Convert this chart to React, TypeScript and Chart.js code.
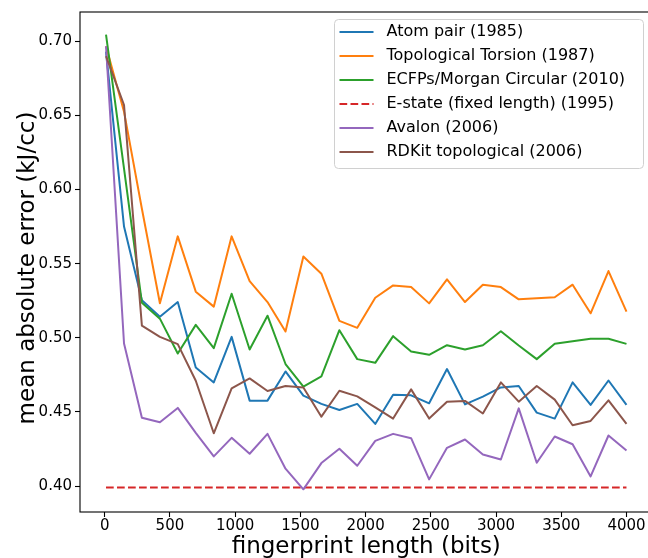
import React, { useEffect, useRef } from "react";
import { Chart, registerables } from "chart.js";

Chart.register(...registerables);

// fingerprint length (bits) at each evaluated point
const fingerprintLengths = [
  10, 148, 285, 423, 560, 698, 836, 973, 1111, 1248, 1386, 1523, 1661, 1799, 1936,
  2074, 2211, 2349, 2487, 2624, 2762, 2899, 3037, 3174, 3312, 3450, 3587, 3725, 3862, 4000,
];

const atomPairMAE = [
  0.693, 0.575, 0.5253, 0.5142, 0.5241, 0.48, 0.4699, 0.5006, 0.4576, 0.4576, 0.4773, 0.461, 0.4554, 0.4513, 0.4554,
  0.4419, 0.4616, 0.4612, 0.4558, 0.4789, 0.4551, 0.4603, 0.4665, 0.4675, 0.4495, 0.4455, 0.4699, 0.4547, 0.4712, 0.4547,
];
const topologicalTorsionMAE = [
  0.6966, 0.6525, 0.587, 0.5233, 0.5684, 0.5311, 0.521, 0.5684, 0.5382, 0.5241, 0.5042, 0.5548, 0.5432, 0.5114, 0.5067,
  0.527, 0.5353, 0.5342, 0.5232, 0.5394, 0.5241, 0.5358, 0.5342, 0.5259, 0.5266, 0.5273, 0.5358, 0.5165, 0.545, 0.5176,
];
const ecfpMorganMAE = [
  0.7044, 0.614, 0.5237, 0.5129, 0.4894, 0.5087, 0.493, 0.5297, 0.4921, 0.5149, 0.4823, 0.467, 0.4739, 0.5051, 0.4856,
  0.4831, 0.5011, 0.4907, 0.4885, 0.495, 0.4921, 0.495, 0.5044, 0.4948, 0.4856, 0.4959, 0.4977, 0.4993, 0.4993, 0.4959,
];
const estateLengths = [10, 4000];
const estateMAE = [0.399, 0.399];
const avalonMAE = [
  0.6966, 0.4961, 0.446, 0.443, 0.4527, 0.4359, 0.42, 0.4325, 0.4218, 0.4352, 0.4117, 0.3978, 0.4155, 0.4251, 0.4137,
  0.4305, 0.4352, 0.4323, 0.4045, 0.4258, 0.4314, 0.4213, 0.4179, 0.4524, 0.4157, 0.4334, 0.4282, 0.4065, 0.4341, 0.424,
];
const rdkitTopologicalMAE = [
  0.6899, 0.657, 0.5082, 0.5006, 0.4957, 0.471, 0.4356, 0.4659, 0.4726, 0.4641, 0.4675, 0.4665, 0.4468, 0.4643, 0.4605,
  0.4531, 0.4455, 0.4652, 0.4455, 0.4569, 0.4574, 0.4489, 0.4699, 0.4569, 0.4675, 0.4583, 0.441, 0.4439, 0.4578, 0.4419,
];

const seriesLabels = [
  "Atom pair (1985)",
  "Topological Torsion (1987)",
  "ECFPs/Morgan Circular (2010)",
  "E-state (fixed length) (1995)",
  "Avalon (2006)",
  "RDKit topological (2006)",
];
const seriesColors = ["#1f77b4", "#ff7f0e", "#2ca02c", "#d62728", "#9467bd", "#8c564b"];

const xTickValues = [0, 500, 1000, 1500, 2000, 2500, 3000, 3500, 4000];
const yTickValues = [0.4, 0.45, 0.5, 0.55, 0.6, 0.65, 0.7];
const xAxisTitle = "fingerprint length (bits)";
const yAxisTitle = "mean absolute error (kJ/cc)";

const FONT = '"DejaVu Sans", sans-serif';
const CANVAS_W = 660;
const CANVAS_H = 558;

export default function App() {
  const ref = useRef<HTMLCanvasElement>(null);

  useEffect(() => {
    const canvas = ref.current;
    if (!canvas) return;
    const toPoints = (xs: number[], ys: number[]) => xs.map((x, i) => ({ x, y: ys[i] }));
    const seriesData = [
      toPoints(fingerprintLengths, atomPairMAE),
      toPoints(fingerprintLengths, topologicalTorsionMAE),
      toPoints(fingerprintLengths, ecfpMorganMAE),
      toPoints(estateLengths, estateMAE),
      toPoints(fingerprintLengths, avalonMAE),
      toPoints(fingerprintLengths, rdkitTopologicalMAE),
    ];
    const DASH = [7.7, 3.3];
    const datasets = seriesData.map((data, i) => ({
      label: seriesLabels[i],
      data,
      borderColor: seriesColors[i],
      backgroundColor: seriesColors[i],
      borderWidth: 2,
      pointRadius: 0,
      pointHoverRadius: 0,
      tension: 0,
      fill: false,
      borderDash: i === 3 ? DASH : [],
      borderJoinStyle: "round" as const,
      borderCapStyle: "butt" as const,
      order: seriesLabels.length - i,
    }));

    const framePlugin = {
      id: "frameAndLegend",
      afterDraw(chart: any) {
        const { ctx, chartArea: a } = chart;
        ctx.save();
        // axes frame
        ctx.strokeStyle = "#000";
        ctx.lineWidth = 1.1;
        ctx.strokeRect(a.left, a.top, a.right - a.left, a.bottom - a.top);

        // legend box
        const bx = 334.5, by = 19.5, bw = 309, bh = 149, r = 4;
        ctx.beginPath();
        ctx.moveTo(bx + r, by);
        ctx.lineTo(bx + bw - r, by);
        ctx.quadraticCurveTo(bx + bw, by, bx + bw, by + r);
        ctx.lineTo(bx + bw, by + bh - r);
        ctx.quadraticCurveTo(bx + bw, by + bh, bx + bw - r, by + bh);
        ctx.lineTo(bx + r, by + bh);
        ctx.quadraticCurveTo(bx, by + bh, bx, by + bh - r);
        ctx.lineTo(bx, by + r);
        ctx.quadraticCurveTo(bx, by, bx + r, by);
        ctx.closePath();
        ctx.fillStyle = "rgba(255,255,255,0.8)";
        ctx.fill();
        ctx.strokeStyle = "#d0d0d0";
        ctx.lineWidth = 1;
        ctx.stroke();

        ctx.font = `16px ${FONT}`;
        ctx.textBaseline = "middle";
        ctx.textAlign = "left";
        seriesLabels.forEach((label, i) => {
          const yy = 32 + 24 * i;
          ctx.beginPath();
          ctx.setLineDash(i === 3 ? DASH : []);
          ctx.strokeStyle = seriesColors[i];
          ctx.lineWidth = 2;
          ctx.moveTo(339.5, yy);
          ctx.lineTo(373.5, yy);
          ctx.stroke();
          ctx.setLineDash([]);
          ctx.fillStyle = "#000";
          ctx.fillText(label, 386.5, yy);
        });

        // axis titles
        ctx.fillStyle = "#000";
        ctx.font = `23px ${FONT}`;
        ctx.textAlign = "center";
        ctx.textBaseline = "alphabetic";
        ctx.fillText(xAxisTitle, (a.left + a.right) / 2, 552.5);
        ctx.translate(34, 268);
        ctx.rotate(-Math.PI / 2);
        ctx.fillText(yAxisTitle, 0, 0);
        ctx.restore();
      },
    };

    const chart = new Chart(canvas, {
      type: "line",
      data: { datasets },
      options: {
        responsive: false,
        devicePixelRatio: 1,
        animation: false,
        events: [],
        layout: { padding: { top: 10, right: 7.5, bottom: 0, left: 0 } },
        plugins: { legend: { display: false }, tooltip: { enabled: false } },
        scales: {
          x: {
            type: "linear",
            min: -189.5,
            max: 4199.5,
            afterFit: (s: any) => {
              s.height = 46;
            },
            afterBuildTicks: (s: any) => {
              s.ticks = xTickValues.map((v) => ({ value: v }));
            },
            border: { display: false },
            grid: {
              display: true,
              drawOnChartArea: false,
              drawTicks: true,
              tickLength: 5,
              tickColor: "#000",
              tickWidth: 1.1,
            },
            ticks: {
              autoSkip: false,
              maxRotation: 0,
              padding: 2,
              color: "#000",
              font: { family: FONT, size: 15, lineHeight: 1 },
              callback: (v: any) => String(v),
            },
          },
          y: {
            type: "linear",
            min: 0.3825,
            max: 0.7197,
            afterFit: (s: any) => {
              s.width = 80;
            },
            afterBuildTicks: (s: any) => {
              s.ticks = yTickValues.map((v) => ({ value: v }));
            },
            border: { display: false },
            grid: {
              display: true,
              drawOnChartArea: false,
              drawTicks: true,
              tickLength: 5,
              tickColor: "#000",
              tickWidth: 1.1,
            },
            ticks: {
              autoSkip: false,
              padding: 3,
              color: "#000",
              font: { family: FONT, size: 15 },
              callback: (v: any) => Number(v).toFixed(2),
            },
          },
        },
      },
      plugins: [framePlugin],
    });

    return () => chart.destroy();
  }, []);

  return (
    <div
      style={{
        position: "fixed",
        left: 0,
        top: 0,
        width: 648,
        height: 558,
        overflow: "hidden",
        background: "#fff",
      }}
    >
      <canvas
        ref={ref}
        width={CANVAS_W}
        height={CANVAS_H}
        style={{ display: "block", width: CANVAS_W, height: CANVAS_H }}
      />
    </div>
  );
}
